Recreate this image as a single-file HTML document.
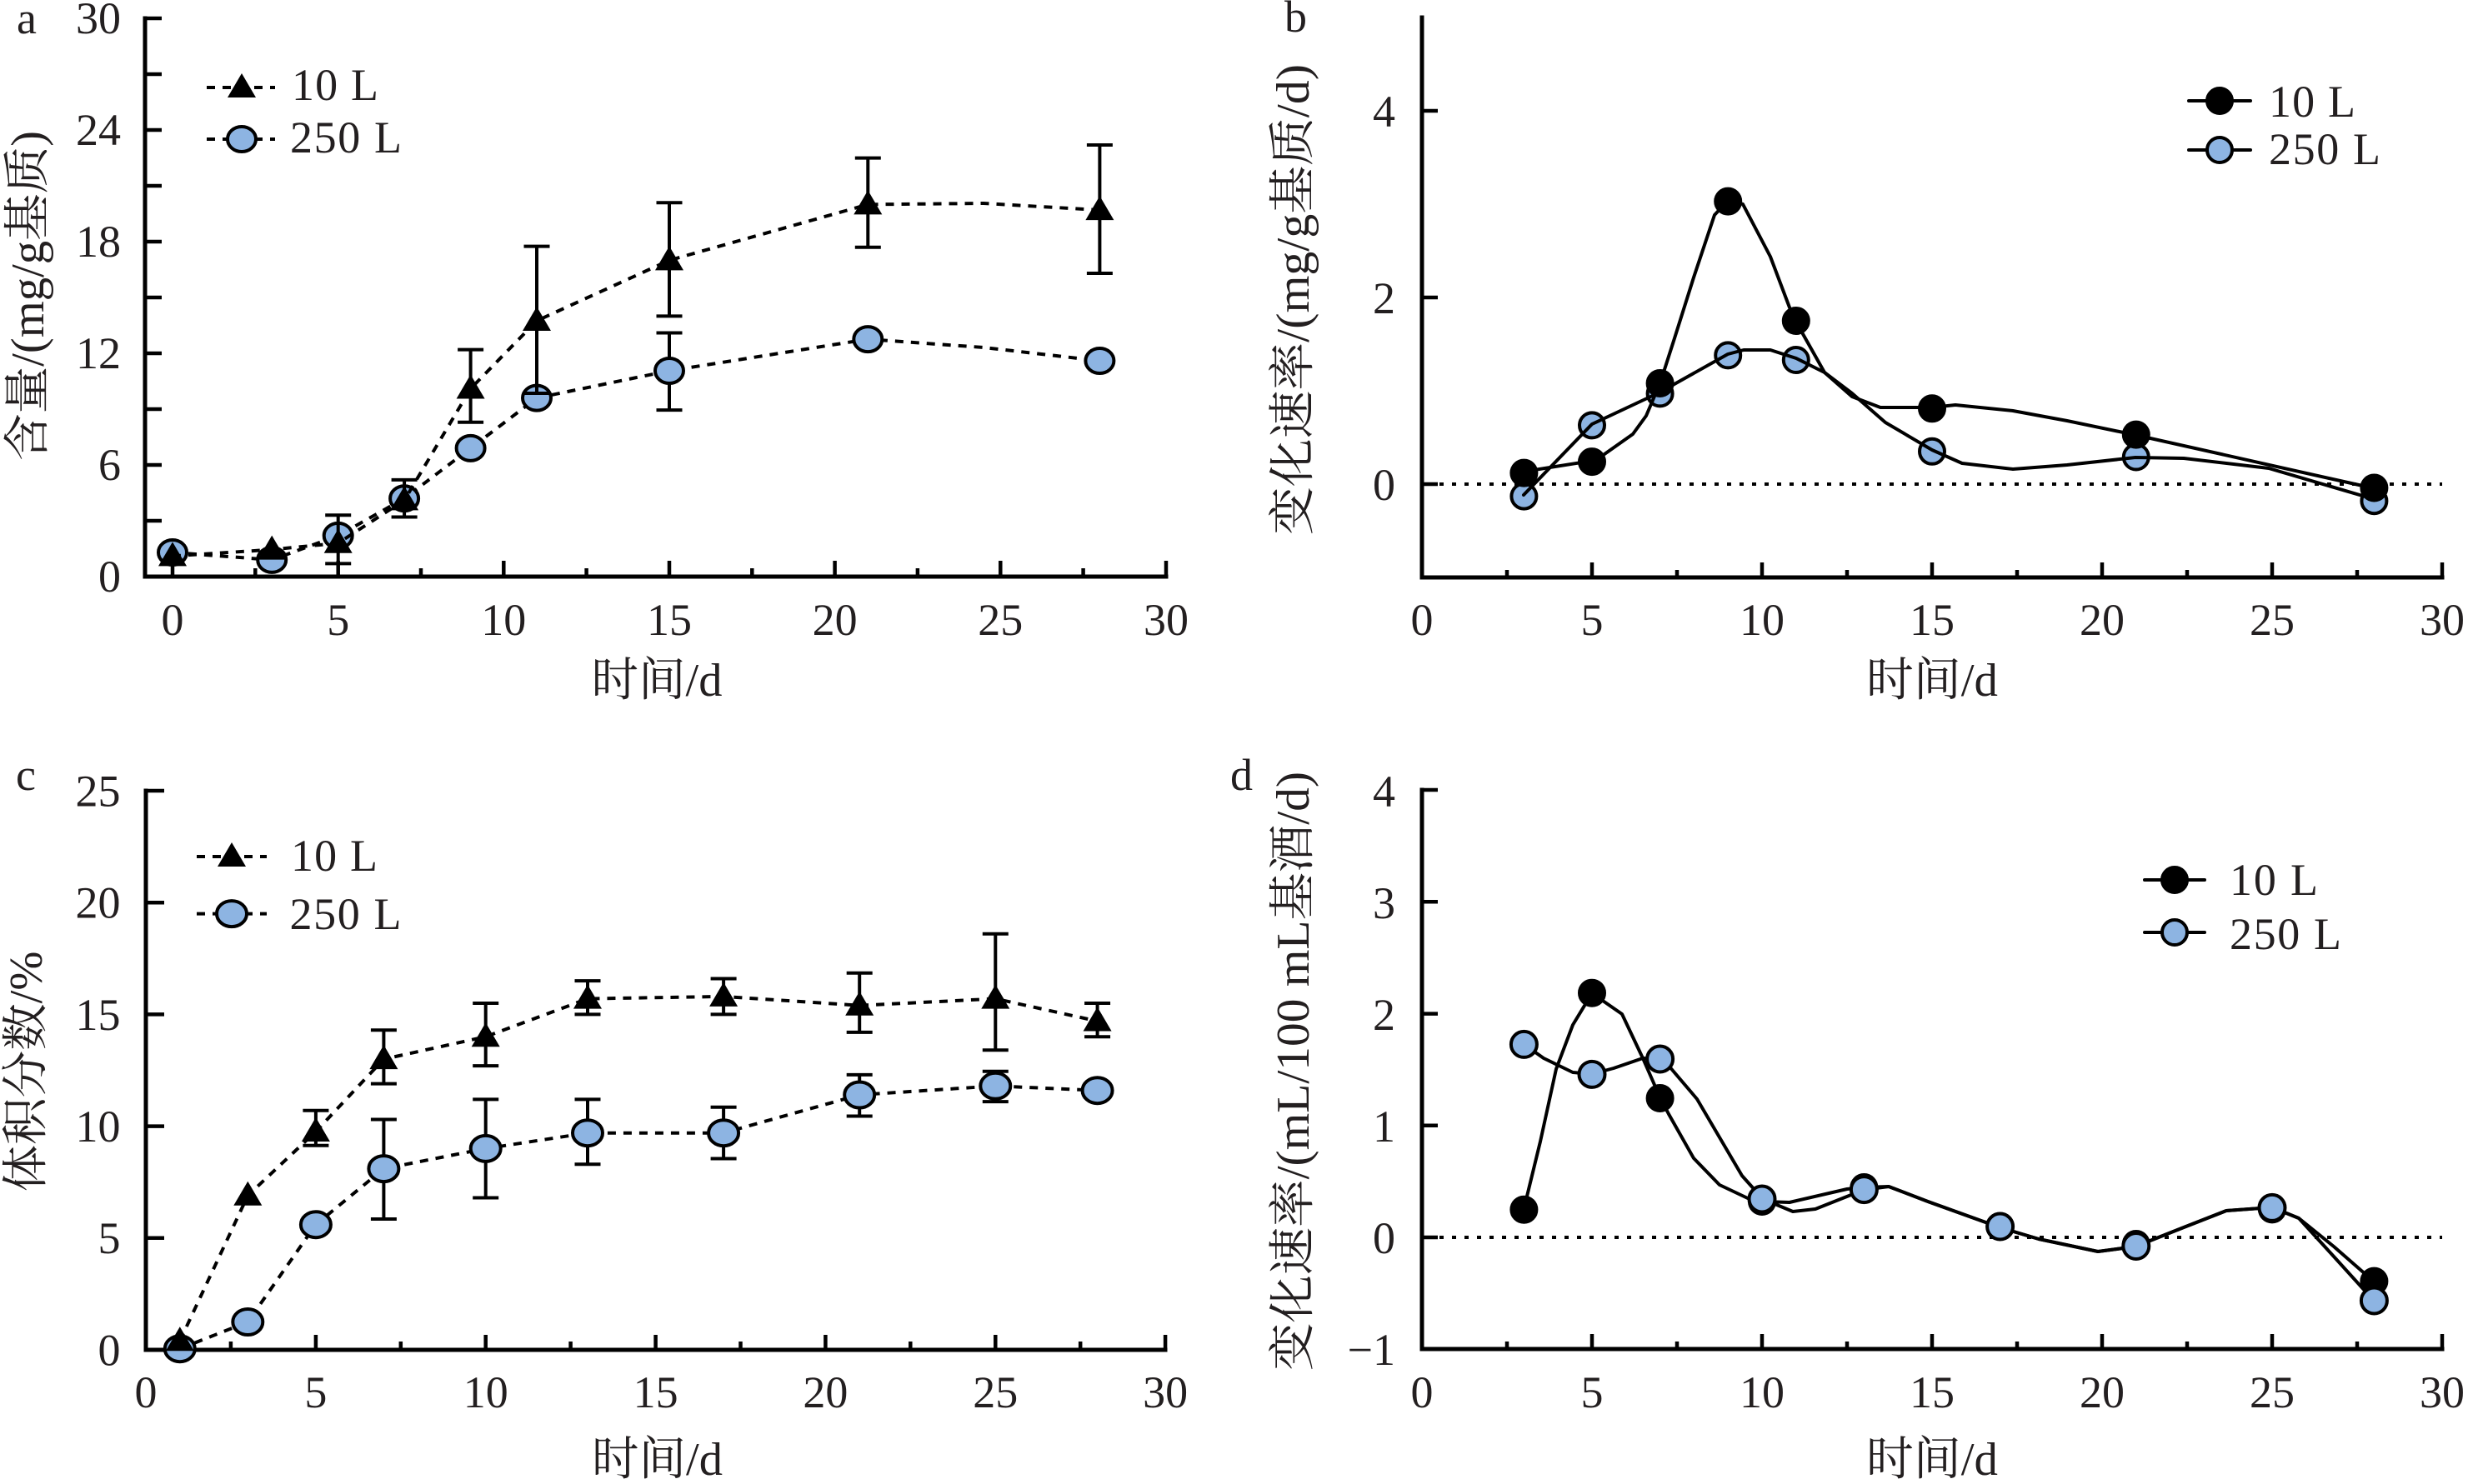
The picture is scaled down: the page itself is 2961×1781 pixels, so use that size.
<!DOCTYPE html>
<html><head><meta charset="utf-8"><style>
html,body{margin:0;padding:0;background:#fff;}
svg{display:block;}
.t{font-family:"Liberation Serif","Noto Serif CJK SC",serif;font-size:54px;fill:#231f20;}
.lab{font-family:"Liberation Serif","Noto Serif CJK SC",serif;font-size:56px;fill:#231f20;}
.ax{stroke:#000;stroke-width:5;fill:none;stroke-linecap:square;}
.tk{stroke:#000;stroke-width:4.5;fill:none;}
.dash{stroke:#000;stroke-width:4;fill:none;stroke-dasharray:10 9;}
.sol{stroke:#000;stroke-width:4;fill:none;stroke-linejoin:round;stroke-linecap:round;}
.dot{stroke:#000;stroke-width:4;fill:none;stroke-dasharray:5 10;}
.eb{stroke:#000;stroke-width:4;fill:none;}
.bl{fill:#8db4e2;stroke:#000;stroke-width:4;}
.bk{fill:#000;stroke:#000;stroke-width:2;}
</style></head><body>
<svg width="2961" height="1781" viewBox="0 0 2961 1781" xmlns="http://www.w3.org/2000/svg">
<rect width="2961" height="1781" fill="#fff"/>

<!-- ================= PANEL A ================= -->
<text class="t" x="20" y="40">a</text>
<line class="ax" x1="174" y1="22" x2="174" y2="692"/>
<line class="ax" x1="174" y1="692" x2="1399" y2="692"/>
<path class="tk" d="M174 625h20M174 558h20M174 491h20M174 424h20M174 357h20M174 290h20M174 223h20M174 156h20M174 89h20M174 22h20"/>
<path class="tk" d="M207 692v-19M306.3 692v-10M405.7 692v-19M505 692v-10M604.3 692v-19M703.6 692v-10M803 692v-19M902.3 692v-10M1001.6 692v-19M1100.9 692v-10M1200.3 692v-19M1299.6 692v-10M1399 692v-19"/>
<g class="t" text-anchor="end">
<text x="145" y="40">30</text><text x="145" y="174">24</text><text x="145" y="308">18</text>
<text x="145" y="442">12</text><text x="145" y="576">6</text><text x="145" y="710">0</text>
</g>
<g class="t" text-anchor="middle">
<text x="207" y="762">0</text><text x="405.7" y="762">5</text><text x="604.3" y="762">10</text>
<text x="803" y="762">15</text><text x="1001.6" y="762">20</text><text x="1200.3" y="762">25</text><text x="1399" y="762">30</text>
</g>
<text class="lab" x="788" y="835" text-anchor="middle" textLength="157" lengthAdjust="spacingAndGlyphs">时间/d</text>
<text class="lab" transform="translate(52,355) rotate(-90)" text-anchor="middle" textLength="396" lengthAdjust="spacingAndGlyphs">含量/(mg/g基质)</text>

<!-- legend a -->
<line class="dash" x1="248" y1="105" x2="330" y2="105"/>
<polygon points="290,88 273,117 307,117" fill="#000"/>
<text class="t" x="350" y="120" textLength="104" lengthAdjust="spacing">10 L</text>
<line class="dash" x1="248" y1="167" x2="330" y2="167"/>
<ellipse class="bl" cx="290" cy="167" rx="17" ry="15"/>
<text class="t" x="348" y="183" textLength="134" lengthAdjust="spacing">250 L</text>

<!-- 250 L series a -->
<path class="eb" d="M803 399.5V492.1M787.5 399.5h31M787.5 492.1h31"/>
<polyline class="dash" points="207,663 326.2,671.9 405.7,642.9 485.1,598.2 564.6,537.9 644,477.6 803,445 1041.3,407.1 1180,417 1319.4,433"/>
<g class="bl">
<ellipse cx="207" cy="663" rx="17" ry="15"/><ellipse cx="326.2" cy="671.9" rx="17" ry="15"/>
<ellipse cx="405.7" cy="642.9" rx="17" ry="15"/><ellipse cx="485.1" cy="598.2" rx="17" ry="15"/>
<ellipse cx="564.6" cy="537.9" rx="17" ry="15"/><ellipse cx="644" cy="477.6" rx="17" ry="15"/>
<ellipse cx="803" cy="445" rx="17" ry="15"/><ellipse cx="1041.3" cy="407.1" rx="17" ry="15"/>
<ellipse cx="1319.4" cy="433" rx="17" ry="15"/>
</g>
<!-- 10 L series a -->
<path class="eb" d="M405.7 618.3V676.4M390.2 618.3h31M390.2 676.4h31
M485.1 575.9V620.5M469.6 575.9h31M469.6 620.5h31
M564.6 419.6V506.7M549.1 419.6h31M549.1 506.7h31
M644 295.6V472M628.5 295.6h31M628.5 472h31
M803 243.2V379.4M787.5 243.2h31M787.5 379.4h31
M1041.3 189.6V296.8M1025.8 189.6h31M1025.8 296.8h31
M1319.4 174V328M1303.9 174h31M1303.9 328h31"/>
<polyline class="dash" points="207,667.4 326.2,659.6 405.7,651.8 485.1,600.4 564.6,466.5 644,385 803,312.4 1041.3,245.4 1180,244 1319.4,252.1"/>
<g fill="#000">
<polygon points="207,650.4 190,679.4 224,679.4"/>
<polygon points="326.2,642.6 309.2,671.6 343.2,671.6"/>
<polygon points="405.7,634.8 388.7,663.8 422.7,663.8"/>
<polygon points="485.1,583.4 468.1,612.4 502.1,612.4"/>
<polygon points="564.6,449.5 547.6,478.5 581.6,478.5"/>
<polygon points="644,368 627,397 661,397"/>
<polygon points="803,295.4 786,324.4 820,324.4"/>
<polygon points="1041.3,228.4 1024.3,257.4 1058.3,257.4"/>
<polygon points="1319.4,235.1 1302.4,264.1 1336.4,264.1"/>
</g>

<!-- ================= PANEL B ================= -->
<text class="t" x="1541" y="38">b</text>
<line class="ax" x1="1706" y1="21" x2="1706" y2="693"/>
<line class="ax" x1="1706" y1="693" x2="2930" y2="693"/>
<path class="tk" d="M1706 133h19M1706 357h19M1706 581h19"/>
<path class="tk" d="M1808 693v-9M1910 693v-18M2012 693v-9M2114 693v-18M2216 693v-9M2318 693v-18M2420 693v-9M2522 693v-18M2624 693v-9M2726 693v-18M2828 693v-9M2930 693v-18"/>
<g class="t" text-anchor="end">
<text x="1674" y="152">4</text><text x="1674" y="376">2</text><text x="1674" y="600">0</text>
</g>
<g class="t" text-anchor="middle">
<text x="1706" y="762">0</text><text x="1910" y="762">5</text><text x="2114" y="762">10</text>
<text x="2318" y="762">15</text><text x="2522" y="762">20</text><text x="2726" y="762">25</text><text x="2930" y="762">30</text>
</g>
<text class="lab" x="2318" y="835" text-anchor="middle" textLength="158" lengthAdjust="spacingAndGlyphs">时间/d</text>
<text class="lab" transform="translate(1570,359.5) rotate(-90)" text-anchor="middle" textLength="565" lengthAdjust="spacingAndGlyphs">变化速率/(mg/g基质/d)</text>
<line class="dot" x1="1712" y1="581" x2="2930" y2="581"/>

<!-- legend b -->
<line class="sol" x1="2626" y1="121" x2="2700" y2="121"/>
<circle class="bk" cx="2663" cy="121" r="16"/>
<text class="t" x="2722" y="140" textLength="104" lengthAdjust="spacing">10 L</text>
<line class="sol" x1="2626" y1="180" x2="2700" y2="180"/>
<circle class="bl" cx="2663" cy="180" r="15"/>
<text class="t" x="2722" y="197" textLength="134" lengthAdjust="spacing">250 L</text>

<g class="bl">
<circle cx="1828.4" cy="595.6" r="15"/><circle cx="1910" cy="510.4" r="15"/><circle cx="1991.6" cy="472.4" r="15"/>
<circle cx="2073.2" cy="426.4" r="15"/><circle cx="2154.8" cy="432" r="15"/><circle cx="2318" cy="541.8" r="15"/>
<circle cx="2562.8" cy="548.5" r="15"/><circle cx="2848.4" cy="601.2" r="15"/>
</g>
<polyline class="sol" points="1828,566 1910,553 1925,545 1959,521 1975,499 1992,459 2009,406 2032,333 2057,258 2073,241 2091,245 2124,308 2147,369 2155,384 2162,399 2189,447 2222,476 2256,489 2318,489 2346,486 2415,493 2480,505 2562,522 2848,586"/>
<g class="bk">
<circle cx="1828.4" cy="567.6" r="16"/><circle cx="1910" cy="554.1" r="16"/><circle cx="1991.6" cy="460" r="16"/>
<circle cx="2073.2" cy="241.6" r="16"/><circle cx="2154.8" cy="385" r="16"/><circle cx="2318" cy="490.3" r="16"/>
<circle cx="2562.8" cy="521.6" r="16"/><circle cx="2848.4" cy="585.5" r="16"/>
</g>
<polyline class="sol" points="1828,594 1910,509 1991,471 2073,425 2092,420 2124,420 2155,430 2189,447 2222,472 2262,507 2318,540 2354,556 2415,563 2480,558 2562,549 2620,550 2722,562 2848,599"/>

<!-- ================= PANEL C ================= -->
<text class="t" x="19" y="948">c</text>
<line class="ax" x1="175" y1="949" x2="175" y2="1620"/>
<line class="ax" x1="175" y1="1620" x2="1398" y2="1620"/>
<path class="tk" d="M175 1485.8h22M175 1351.6h22M175 1217.4h22M175 1083.2h22M175 949h22"/>
<path class="tk" d="M276.9 1620v-10M378.9 1620v-18M480.8 1620v-10M582.7 1620v-18M684.6 1620v-10M786.6 1620v-18M888.5 1620v-10M990.4 1620v-18M1092.3 1620v-10M1194.3 1620v-18M1296.2 1620v-10M1398.1 1620v-18"/>
<g class="t" text-anchor="end">
<text x="144.5" y="967.5">25</text><text x="144.5" y="1101.7">20</text><text x="144.5" y="1236">15</text>
<text x="144.5" y="1370">10</text><text x="144.5" y="1504">5</text><text x="144.5" y="1638.5">0</text>
</g>
<g class="t" text-anchor="middle">
<text x="175" y="1689">0</text><text x="378.9" y="1689">5</text><text x="582.7" y="1689">10</text>
<text x="786.6" y="1689">15</text><text x="990.4" y="1689">20</text><text x="1194.3" y="1689">25</text><text x="1398.1" y="1689">30</text>
</g>
<text class="lab" x="788.5" y="1770" text-anchor="middle" textLength="157" lengthAdjust="spacingAndGlyphs">时间/d</text>
<text class="lab" transform="translate(50,1286) rotate(-90)" text-anchor="middle" textLength="289" lengthAdjust="spacingAndGlyphs">体积分数/%</text>

<!-- legend c -->
<line class="dash" x1="236" y1="1028" x2="320" y2="1028"/>
<polygon points="278,1011 261,1040 295,1040" fill="#000"/>
<text class="t" x="349" y="1045" textLength="104" lengthAdjust="spacing">10 L</text>
<line class="dash" x1="236" y1="1096.6" x2="320" y2="1096.6"/>
<ellipse class="bl" cx="278" cy="1096.6" rx="18" ry="15.5"/>
<text class="t" x="347.5" y="1115" textLength="134" lengthAdjust="spacing">250 L</text>

<!-- 250 L c -->
<path class="eb" d="M460.4 1343.5V1463M444.9 1343.5h31M444.9 1463h31
M582.7 1319.4V1437.5M567.2 1319.4h31M567.2 1437.5h31
M705 1319.4V1397.2M689.5 1319.4h31M689.5 1397.2h31
M868.1 1328.8V1390.5M852.6 1328.8h31M852.6 1390.5h31
M1031.2 1289.9V1339.5M1015.7 1289.9h31M1015.7 1339.5h31
M1194.3 1285.8V1322.1M1178.8 1285.8h31M1178.8 1322.1h31"/>
<polyline class="dash" points="215.8,1618.7 297.3,1586.5 378.9,1469.7 460.4,1402.6 582.7,1378.4 705,1359.7 868.1,1359.7 1031.2,1314 1194.3,1303.3 1316.6,1308.7"/>
<g class="bl">
<ellipse cx="215.8" cy="1618.7" rx="18" ry="15.5"/><ellipse cx="297.3" cy="1586.5" rx="18" ry="15.5"/>
<ellipse cx="378.9" cy="1469.7" rx="18" ry="15.5"/><ellipse cx="460.4" cy="1402.6" rx="18" ry="15.5"/>
<ellipse cx="582.7" cy="1378.4" rx="18" ry="15.5"/><ellipse cx="705" cy="1359.7" rx="18" ry="15.5"/>
<ellipse cx="868.1" cy="1359.7" rx="18" ry="15.5"/><ellipse cx="1031.2" cy="1314" rx="18" ry="15.5"/>
<ellipse cx="1194.3" cy="1303.3" rx="18" ry="15.5"/><ellipse cx="1316.6" cy="1308.7" rx="18" ry="15.5"/>
</g>
<!-- 10 L c -->
<path class="eb" d="M378.9 1332.8V1374.7M363.4 1332.8h31M363.4 1374.7h31
M460.4 1236.2V1300.6M444.9 1236.2h31M444.9 1300.6h31
M582.7 1204V1279.1M567.2 1204h31M567.2 1279.1h31
M705 1177.1V1217.4M689.5 1177.1h31M689.5 1217.4h31
M868.1 1174.5V1217.4M852.6 1174.5h31M852.6 1217.4h31
M1031.2 1167.7V1238.9M1015.7 1167.7h31M1015.7 1238.9h31
M1194.3 1120.8V1260.3M1178.8 1120.8h31M1178.8 1260.3h31
M1316.6 1204V1244.2M1301.1 1204h31M1301.1 1244.2h31"/>
<polyline class="dash" points="215.8,1609.3 297.3,1434.8 378.9,1358 460.4,1271.1 582.7,1244.2 705,1198.6 868.1,1195.9 1031.2,1206.7 1194.3,1198.6 1316.6,1225.5"/>
<g fill="#000">
<polygon points="215.8,1592.3 198.8,1621.3 232.8,1621.3"/>
<polygon points="297.3,1417.8 280.3,1446.8 314.3,1446.8"/>
<polygon points="378.9,1341 361.9,1370 395.9,1370"/>
<polygon points="460.4,1254.1 443.4,1283.1 477.4,1283.1"/>
<polygon points="582.7,1227.2 565.7,1256.2 599.7,1256.2"/>
<polygon points="705,1181.6 688,1210.6 722,1210.6"/>
<polygon points="868.1,1178.9 851.1,1207.9 885.1,1207.9"/>
<polygon points="1031.2,1189.7 1014.2,1218.7 1048.2,1218.7"/>
<polygon points="1194.3,1181.6 1177.3,1210.6 1211.3,1210.6"/>
<polygon points="1316.6,1208.5 1299.6,1237.5 1333.6,1237.5"/>
</g>

<!-- ================= PANEL D ================= -->
<text class="t" x="1476" y="948">d</text>
<line class="ax" x1="1706" y1="948" x2="1706" y2="1619"/>
<line class="ax" x1="1706" y1="1619" x2="2930" y2="1619"/>
<path class="tk" d="M1706 948h19M1706 1082.2h19M1706 1216.6h19M1706 1350.8h19M1706 1485h19"/>
<path class="tk" d="M1808 1619v-9M1910 1619v-18M2012 1619v-9M2114 1619v-18M2216 1619v-9M2318 1619v-18M2420 1619v-9M2522 1619v-18M2624 1619v-9M2726 1619v-18M2828 1619v-9M2930 1619v-18"/>
<g class="t" text-anchor="end">
<text x="1674" y="968">4</text><text x="1674" y="1102">3</text><text x="1674" y="1236">2</text>
<text x="1674" y="1370">1</text><text x="1674" y="1504">0</text><text x="1674" y="1638">−1</text>
</g>
<g class="t" text-anchor="middle">
<text x="1706" y="1689">0</text><text x="1910" y="1689">5</text><text x="2114" y="1689">10</text>
<text x="2318" y="1689">15</text><text x="2522" y="1689">20</text><text x="2726" y="1689">25</text><text x="2930" y="1689">30</text>
</g>
<text class="lab" x="2318" y="1770" text-anchor="middle" textLength="158" lengthAdjust="spacingAndGlyphs">时间/d</text>
<text class="lab" transform="translate(1570,1285.5) rotate(-90)" text-anchor="middle" textLength="719" lengthAdjust="spacingAndGlyphs">变化速率/(mL/100 mL基酒/d)</text>
<line class="dot" x1="1712" y1="1485" x2="2930" y2="1485"/>

<!-- legend d -->
<line class="sol" x1="2573" y1="1056" x2="2645" y2="1056"/>
<circle class="bk" cx="2609" cy="1056" r="16"/>
<text class="t" x="2675" y="1074" textLength="106" lengthAdjust="spacing">10 L</text>
<line class="sol" x1="2573" y1="1119" x2="2645" y2="1119"/>
<circle class="bl" cx="2609" cy="1119" r="15"/>
<text class="t" x="2675" y="1139" textLength="134" lengthAdjust="spacing">250 L</text>

<polyline class="sol" points="1828,1452 1848,1370 1867,1283 1887,1230 1910,1192 1946,1217 1971,1270 1992,1318 2002,1337 2032,1390 2063,1422 2101,1440 2115,1442 2147,1443 2216,1427 2236,1425 2266,1424 2313,1442 2399,1473 2446,1487 2517,1502 2562,1496 2620,1473 2671,1453 2726,1449 2758,1462 2800,1496 2848,1538"/>
<g class="bk">
<circle cx="1828.4" cy="1451.7" r="16"/><circle cx="1910" cy="1191.7" r="16"/><circle cx="1991.6" cy="1318" r="16"/>
<circle cx="2114" cy="1442" r="16"/><circle cx="2236.4" cy="1425" r="16"/><circle cx="2399.6" cy="1471.6" r="16"/>
<circle cx="2562.8" cy="1493" r="16"/><circle cx="2726" cy="1451.4" r="16"/><circle cx="2848.4" cy="1537.6" r="16"/>
</g>
<polyline class="sol" points="1828,1253 1852,1270 1887,1287 1910,1289 1936,1282 1971,1270 1992,1271 2002,1279 2036,1319 2090,1411 2115,1439 2151,1454 2178,1451 2236,1428 2266,1424 2313,1442 2399,1473 2446,1487 2517,1502 2562,1496 2620,1473 2671,1453 2726,1449 2758,1462 2800,1508 2848,1561"/>
<g class="bl">
<circle cx="1828.4" cy="1253.4" r="15.5"/><circle cx="1910" cy="1289.4" r="15.5"/><circle cx="1991.6" cy="1271" r="15.5"/>
<circle cx="2114" cy="1439" r="15.5"/><circle cx="2236.4" cy="1427.6" r="15.5"/><circle cx="2399.6" cy="1472" r="15.5"/>
<circle cx="2562.8" cy="1495.5" r="15.5"/><circle cx="2726" cy="1449.4" r="15.5"/><circle cx="2848.4" cy="1561" r="15.5"/>
</g>
</svg>
</body></html>
